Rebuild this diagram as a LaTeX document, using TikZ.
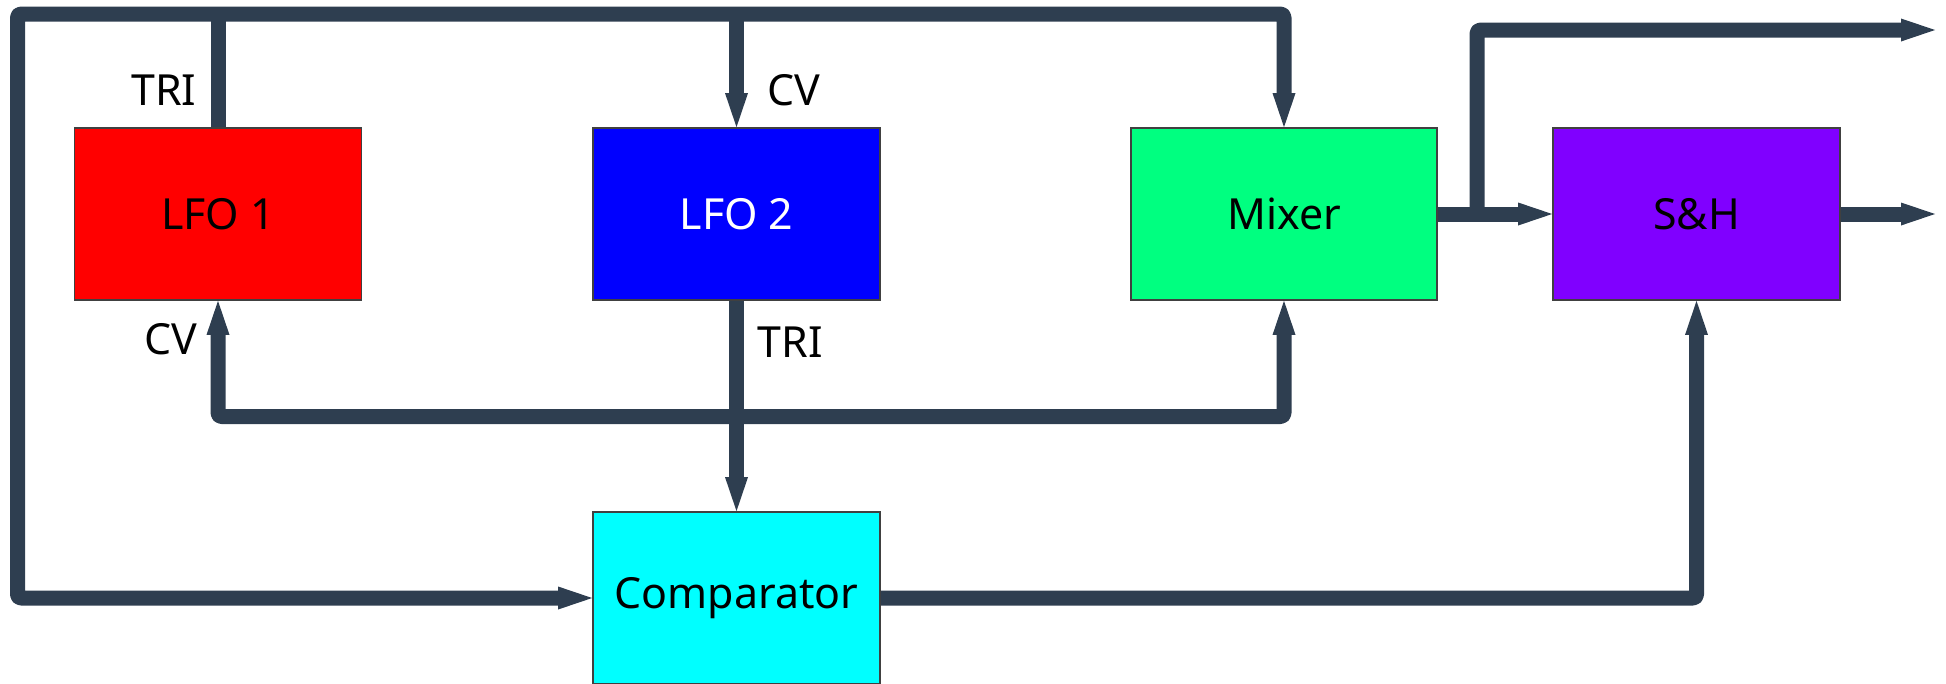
\documentclass[tikz,border=0pt]{standalone}
\usepackage{fontspec}
\setmainfont{Noto Sans}
\usepackage{tikz}
\usetikzlibrary{arrows.meta, positioning, calc}
\definecolor{wiregray}{RGB}{46, 62, 80}
\definecolor{mixgreen}{RGB}{0, 255, 128}
\definecolor{shviolet}{RGB}{128, 0, 255}
\definecolor{compcyan}{RGB}{0, 255, 255}

\begin{document}
\begin{tikzpicture}[font=\fontsize{12.2}{14}\selectfont,
  >={Triangle[length=0.34cm, width=0.23cm, line width=0pt]},
  block/.style={draw=black!75, line width=0.5pt, minimum width=2.87cm,
                minimum height=1.72cm, inner sep=0pt},
  wire/.style={draw=wiregray, line width=0.15cm, rounded corners=1pt, line join=round},
  feed/.style={wire, ->},
  sig/.style={inner sep=0pt}]

  \useasboundingbox (0,0) rectangle (19.46,6.83);

  \node[block, fill=red] (lfoA) at (2.18,4.69) {LFO 1};
  \node[block, fill=blue, text=white] (lfoB) at (7.365,4.69) {LFO 2};
  \node[block, fill=mixgreen, minimum width=3.06cm] (mixer) at (12.84,4.69) {Mixer};
  \node[block, fill=shviolet] (sh) at (16.965,4.69) {S\&H};
  \node[block, fill=compcyan] (comp) at (7.365,0.85) {Comparator};

  \coordinate (tl) at (0.175,6.69);
  \coordinate (bl) at (7.365,2.665);
  \coordinate (tap) at (14.77,4.69);
  \coordinate (outA) at (19.35,6.53);
  \coordinate (outB) at (19.35,4.69);

  \draw[wire, <->] (comp.west) -| (tl) -| (mixer.north);
  \draw[wire] (lfoA.north) -- (lfoA.north |- tl);
  \draw[feed] (lfoB.north |- tl) -- (lfoB.north);

  \draw[wire, <->] (lfoA.south) |- (bl) -| (mixer.south);
  \draw[feed] (lfoB.south) -- (comp.north);

  \draw[feed] (comp.east) -| (sh.south);
  \draw[feed] (mixer.east) -- (sh.west);
  \draw[feed] (tap) |- (outA);
  \draw[feed] (sh.east) -- (outB);

  \node[sig, anchor=east] (triA) at (1.97,5.93) {TRI};
  \node[sig, anchor=west] (cvB) at (7.67,5.93) {CV};
  \node[sig, anchor=east] (cvA) at (1.98,3.44) {CV};
  \node[sig, anchor=west] (triB) at (7.57,3.41) {TRI};

\end{tikzpicture}
\end{document}
